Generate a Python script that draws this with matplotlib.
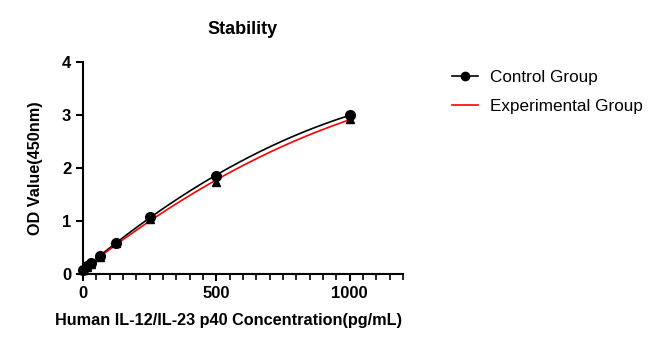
import numpy as np
import matplotlib.pyplot as plt
from matplotlib.lines import Line2D

plt.rcParams['font.family'] = ['Liberation Sans', 'DejaVu Sans']

# standard concentrations (pg/mL) and OD readings
conc = [0, 15.6, 31.25, 62.5, 125, 250, 500, 1000]
control_od = [0.08, 0.15, 0.21, 0.34, 0.59, 1.08, 1.85, 2.99]
experimental_od = [0.07, 0.14, 0.19, 0.33, 0.58, 1.03, 1.74, 2.91]
experimental_err = [0.01, 0.01, 0.01, 0.02, 0.02, 0.04, 0.06, 0.04]

fig = plt.figure(figsize=(6.54, 3.5), dpi=100)
ax = fig.add_axes([0.127, 0.217, 0.489, 0.607])

# fitted curves
xs = np.linspace(0, 1000, 200)
c_fit = np.polyfit(conc, control_od, 2)
e_fit = np.polyfit(conc, experimental_od, 2)
ax.plot(xs, np.polyval(c_fit, xs), color='black', lw=1.2)
ax.plot(xs, np.polyval(e_fit, xs), color='red', lw=1.2)

ax.errorbar(conc, experimental_od, yerr=experimental_err, fmt='^', color='black',
            ms=6, capsize=2, elinewidth=1, clip_on=False, zorder=3)
ax.plot(conc, control_od, 'o', color='black', ms=7, clip_on=False, zorder=4)

ax.set_xlim(0, 1200)
ax.set_ylim(0, 4)
ax.set_xticks([0, 500, 1000])
ax.set_xticks(np.arange(0, 1201, 50), minor=True)
ax.set_yticks([0, 1, 2, 3, 4])
for s in ['top', 'right']:
    ax.spines[s].set_visible(False)
for s in ['left', 'bottom']:
    ax.spines[s].set_linewidth(1.5)
ax.tick_params(width=1.5, length=5, labelsize=12)
ax.tick_params(which='minor', width=1.2, length=4)
for lbl in ax.get_xticklabels() + ax.get_yticklabels():
    lbl.set_fontweight('bold')

ax.set_title('Stability', fontsize=13, fontweight='bold', pad=20)
ax.set_xlabel('Human IL-12/IL-23 p40 Concentration(pg/mL)', fontsize=11.7, fontweight='bold', labelpad=14)
ax.xaxis.set_label_coords(0.455, -0.185)
ax.set_ylabel('OD Value(450nm)', fontsize=11.7, fontweight='bold', labelpad=14)

handles = [Line2D([], [], color='black', marker='o', ms=6, lw=1.2),
           Line2D([], [], color='red', lw=1.2)]
fig.legend(handles, ['Control Group', 'Experimental Group'], loc='upper left',
           bbox_to_anchor=(0.668, 0.845), frameon=False, fontsize=12.3,
           handlelength=1.5, handletextpad=0.7, labelspacing=0.85)

fig.savefig('out.png', dpi=100)
